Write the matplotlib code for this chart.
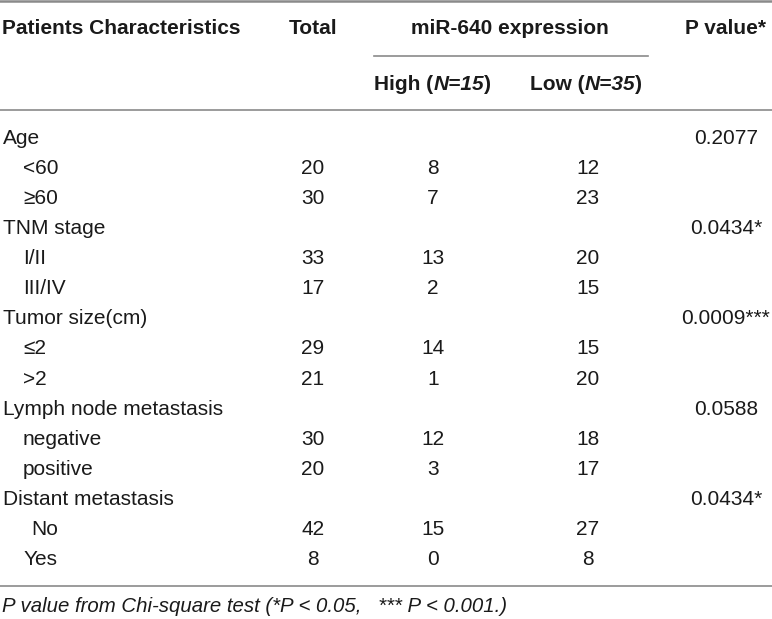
import matplotlib
matplotlib.use("Agg")
import matplotlib.pyplot as plt

plt.rcParams['font.family'] = ['Liberation Sans', 'DejaVu Sans']

# Данные таблицы
row_labels = ["Age", "<60", "≥60", "TNM stage", "I/II", "III/IV",
              "Tumor size(cm)", "≤2", ">2", "Lymph node metastasis",
              "negative", "positive", "Distant metastasis", "No", "Yes"]
total = ["", "20", "30", "", "33", "17", "", "29", "21", "", "30", "20", "", "42", "8"]
high = ["", "8", "7", "", "13", "2", "", "14", "1", "", "12", "3", "", "15", "0"]
low = ["", "12", "23", "", "20", "15", "", "15", "20", "", "18", "17", "", "27", "8"]
p_values = ["0.2077", "", "", "0.0434*", "", "", "0.0009***", "", "",
            "0.0588", "", "", "0.0434*", "", ""]
footnote = "P value from Chi-square test (*P < 0.05,   *** P < 0.001.)"

# Отступы для подпунктов (px)
indent = [3, 23, 23, 3, 23, 23, 3, 23, 23, 3, 23, 23, 3, 31, 24]

W, H = 772, 619
fig = plt.figure(figsize=(W / 100, H / 100), dpi=100)
ax = fig.add_axes([0, 0, 1, 1])
ax.set_xlim(0, W)
ax.set_ylim(H, 0)
ax.axis('off')

FS = 15
TXT = '#1a1a1a'
LINE = '#8a8a8a'

# Линии таблицы
ax.plot([0, W], [1, 1], color=LINE, lw=1.8)
ax.plot([374, 648], [56, 56], color=LINE, lw=1.2)
ax.plot([0, W], [110, 110], color=LINE, lw=1.2)
ax.plot([0, W], [586, 586], color=LINE, lw=1.2)


def chain(parts, x, y):
    # Кусочки жирного текста подряд (обычный / курсив)
    prev = None
    for s, style in parts:
        if prev is None:
            prev = ax.text(x, y, s, fontsize=FS, fontweight='bold', fontstyle=style,
                           color=TXT, va='center', ha='left')
        else:
            prev = ax.annotate(s, xy=(1, 0), xycoords=prev, fontsize=FS, fontweight='bold',
                               fontstyle=style, color=TXT, va='bottom', ha='left')


# Заголовок
ax.text(2, 29, "Patients Characteristics", fontsize=FS, fontweight='bold',
        color=TXT, va='center', ha='left')
ax.text(313, 29, "Total", fontsize=FS, fontweight='bold', color=TXT, va='center', ha='center')
ax.text(510, 29, "miR-640 expression", fontsize=FS, fontweight='bold', color=TXT,
        va='center', ha='center')
ax.text(685, 29, "P value*", fontsize=FS, fontweight='bold', color=TXT, va='center', ha='left')
chain([("High (", 'normal'), ("N=15", 'italic'), (")", 'normal')], 374, 85)
chain([("Low (", 'normal'), ("N=35", 'italic'), (")", 'normal')], 530, 85)

# Строки
y0, dy = 138, 30.14
for i, lab in enumerate(row_labels):
    y = y0 + i * dy
    ax.text(indent[i], y, lab, fontsize=FS, color=TXT, va='center', ha='left')
    ax.text(313, y, total[i], fontsize=FS, color=TXT, va='center', ha='center')
    ax.text(433, y, high[i], fontsize=FS, color=TXT, va='center', ha='center')
    ax.text(588, y, low[i], fontsize=FS, color=TXT, va='center', ha='center')
    ax.text(726, y, p_values[i], fontsize=FS, color=TXT, va='center', ha='center')

ax.text(2, 607, footnote, fontsize=14.7, fontstyle='italic', color=TXT, va='center', ha='left')

fig.savefig('out.png', dpi=100)
